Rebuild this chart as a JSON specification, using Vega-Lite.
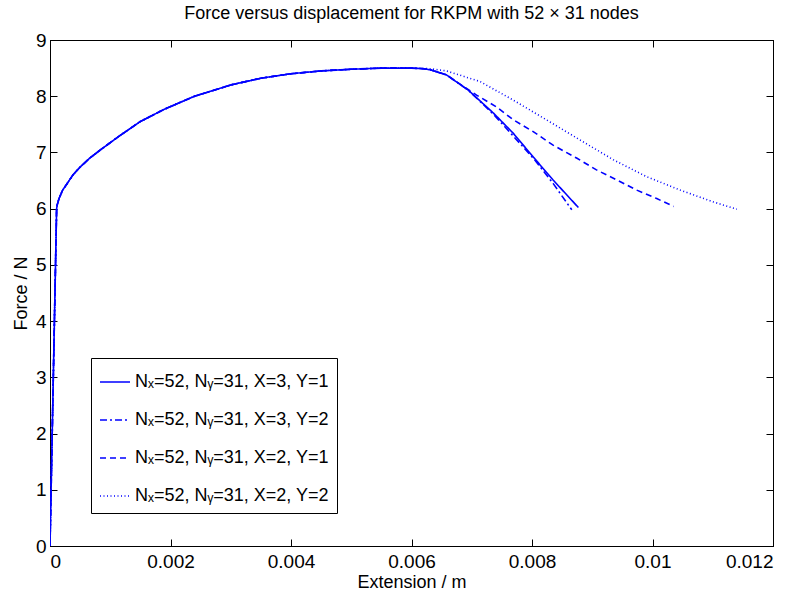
{
  "$schema": "https://vega.github.io/schema/vega-lite/v6.json",
  "width": 723,
  "height": 506,
  "autosize": {"type": "none"},
  "padding": {"left": 50, "top": 40, "right": 26, "bottom": 46},
  "background": "white",
  "title": {"text": "Force versus displacement for RKPM with 52 × 31 nodes", "fontSize": 18, "fontWeight": "normal", "font": "Liberation Sans", "color": "black", "offset": 8},
  "config": {
    "font": "Liberation Sans",
    "view": {"stroke": "black", "strokeWidth": 1},
    "axis": {"grid": false, "domainColor": "black", "tickColor": "black", "labelColor": "black", "titleColor": "black", "labelFontSize": 19, "titleFontSize": 18, "titleFontWeight": "normal", "tickSize": -7, "domainWidth": 1, "tickWidth": 1}
  },
  "datasets": {
    "curves": [
    {"s": "Nₓ=52, Nᵧ=31, X=3, Y=1", "x": 0, "y": 0},
    {"s": "Nₓ=52, Nᵧ=31, X=3, Y=1", "x": 0.00011, "y": 6.0},
    {"s": "Nₓ=52, Nᵧ=31, X=3, Y=1", "x": 0.00012, "y": 6.07},
    {"s": "Nₓ=52, Nᵧ=31, X=3, Y=1", "x": 0.00015, "y": 6.18},
    {"s": "Nₓ=52, Nᵧ=31, X=3, Y=1", "x": 0.00021, "y": 6.33},
    {"s": "Nₓ=52, Nᵧ=31, X=3, Y=1", "x": 0.00028, "y": 6.44},
    {"s": "Nₓ=52, Nᵧ=31, X=3, Y=1", "x": 0.00038, "y": 6.6},
    {"s": "Nₓ=52, Nᵧ=31, X=3, Y=1", "x": 0.0005, "y": 6.74},
    {"s": "Nₓ=52, Nᵧ=31, X=3, Y=1", "x": 0.00066, "y": 6.9},
    {"s": "Nₓ=52, Nᵧ=31, X=3, Y=1", "x": 0.00083, "y": 7.04},
    {"s": "Nₓ=52, Nᵧ=31, X=3, Y=1", "x": 0.00116, "y": 7.3},
    {"s": "Nₓ=52, Nᵧ=31, X=3, Y=1", "x": 0.0015, "y": 7.55},
    {"s": "Nₓ=52, Nᵧ=31, X=3, Y=1", "x": 0.0019, "y": 7.77},
    {"s": "Nₓ=52, Nᵧ=31, X=3, Y=1", "x": 0.0024, "y": 8.0},
    {"s": "Nₓ=52, Nᵧ=31, X=3, Y=1", "x": 0.003, "y": 8.2},
    {"s": "Nₓ=52, Nᵧ=31, X=3, Y=1", "x": 0.0035, "y": 8.32},
    {"s": "Nₓ=52, Nᵧ=31, X=3, Y=1", "x": 0.004, "y": 8.4},
    {"s": "Nₓ=52, Nᵧ=31, X=3, Y=1", "x": 0.0045, "y": 8.45},
    {"s": "Nₓ=52, Nᵧ=31, X=3, Y=1", "x": 0.005, "y": 8.48},
    {"s": "Nₓ=52, Nᵧ=31, X=3, Y=1", "x": 0.0055, "y": 8.5},
    {"s": "Nₓ=52, Nᵧ=31, X=3, Y=1", "x": 0.006, "y": 8.5},
    {"s": "Nₓ=52, Nᵧ=31, X=3, Y=1", "x": 0.0062, "y": 8.49},
    {"s": "Nₓ=52, Nᵧ=31, X=3, Y=1", "x": 0.00631, "y": 8.47},
    {"s": "Nₓ=52, Nᵧ=31, X=3, Y=1", "x": 0.00658, "y": 8.38},
    {"s": "Nₓ=52, Nᵧ=31, X=3, Y=1", "x": 0.00694, "y": 8.11},
    {"s": "Nₓ=52, Nᵧ=31, X=3, Y=1", "x": 0.00736, "y": 7.7},
    {"s": "Nₓ=52, Nᵧ=31, X=3, Y=1", "x": 0.00769, "y": 7.34},
    {"s": "Nₓ=52, Nᵧ=31, X=3, Y=1", "x": 0.00802, "y": 6.92},
    {"s": "Nₓ=52, Nᵧ=31, X=3, Y=1", "x": 0.00835, "y": 6.51},
    {"s": "Nₓ=52, Nᵧ=31, X=3, Y=1", "x": 0.00877, "y": 6.02},

    {"s": "Nₓ=52, Nᵧ=31, X=3, Y=2", "x": 0, "y": 0},
    {"s": "Nₓ=52, Nᵧ=31, X=3, Y=2", "x": 0.00011, "y": 6.0},
    {"s": "Nₓ=52, Nᵧ=31, X=3, Y=2", "x": 0.00012, "y": 6.07},
    {"s": "Nₓ=52, Nᵧ=31, X=3, Y=2", "x": 0.00015, "y": 6.18},
    {"s": "Nₓ=52, Nᵧ=31, X=3, Y=2", "x": 0.00021, "y": 6.33},
    {"s": "Nₓ=52, Nᵧ=31, X=3, Y=2", "x": 0.00028, "y": 6.44},
    {"s": "Nₓ=52, Nᵧ=31, X=3, Y=2", "x": 0.00038, "y": 6.6},
    {"s": "Nₓ=52, Nᵧ=31, X=3, Y=2", "x": 0.0005, "y": 6.74},
    {"s": "Nₓ=52, Nᵧ=31, X=3, Y=2", "x": 0.00066, "y": 6.9},
    {"s": "Nₓ=52, Nᵧ=31, X=3, Y=2", "x": 0.00083, "y": 7.04},
    {"s": "Nₓ=52, Nᵧ=31, X=3, Y=2", "x": 0.00116, "y": 7.3},
    {"s": "Nₓ=52, Nᵧ=31, X=3, Y=2", "x": 0.0015, "y": 7.55},
    {"s": "Nₓ=52, Nᵧ=31, X=3, Y=2", "x": 0.0019, "y": 7.77},
    {"s": "Nₓ=52, Nᵧ=31, X=3, Y=2", "x": 0.0024, "y": 8.0},
    {"s": "Nₓ=52, Nᵧ=31, X=3, Y=2", "x": 0.003, "y": 8.2},
    {"s": "Nₓ=52, Nᵧ=31, X=3, Y=2", "x": 0.0035, "y": 8.32},
    {"s": "Nₓ=52, Nᵧ=31, X=3, Y=2", "x": 0.004, "y": 8.4},
    {"s": "Nₓ=52, Nᵧ=31, X=3, Y=2", "x": 0.0045, "y": 8.45},
    {"s": "Nₓ=52, Nᵧ=31, X=3, Y=2", "x": 0.005, "y": 8.48},
    {"s": "Nₓ=52, Nᵧ=31, X=3, Y=2", "x": 0.0055, "y": 8.5},
    {"s": "Nₓ=52, Nᵧ=31, X=3, Y=2", "x": 0.006, "y": 8.5},
    {"s": "Nₓ=52, Nᵧ=31, X=3, Y=2", "x": 0.0062, "y": 8.49},
    {"s": "Nₓ=52, Nᵧ=31, X=3, Y=2", "x": 0.00631, "y": 8.47},
    {"s": "Nₓ=52, Nᵧ=31, X=3, Y=2", "x": 0.00658, "y": 8.38},
    {"s": "Nₓ=52, Nᵧ=31, X=3, Y=2", "x": 0.00694, "y": 8.11},
    {"s": "Nₓ=52, Nᵧ=31, X=3, Y=2", "x": 0.00736, "y": 7.68},
    {"s": "Nₓ=52, Nᵧ=31, X=3, Y=2", "x": 0.0078, "y": 7.16},
    {"s": "Nₓ=52, Nᵧ=31, X=3, Y=2", "x": 0.00805, "y": 6.86},
    {"s": "Nₓ=52, Nᵧ=31, X=3, Y=2", "x": 0.00835, "y": 6.45},
    {"s": "Nₓ=52, Nᵧ=31, X=3, Y=2", "x": 0.00858, "y": 6.1},
    {"s": "Nₓ=52, Nᵧ=31, X=3, Y=2", "x": 0.00866, "y": 5.98},

    {"s": "Nₓ=52, Nᵧ=31, X=2, Y=1", "x": 0, "y": 0},
    {"s": "Nₓ=52, Nᵧ=31, X=2, Y=1", "x": 0.00011, "y": 6.0},
    {"s": "Nₓ=52, Nᵧ=31, X=2, Y=1", "x": 0.00012, "y": 6.07},
    {"s": "Nₓ=52, Nᵧ=31, X=2, Y=1", "x": 0.00015, "y": 6.18},
    {"s": "Nₓ=52, Nᵧ=31, X=2, Y=1", "x": 0.00021, "y": 6.33},
    {"s": "Nₓ=52, Nᵧ=31, X=2, Y=1", "x": 0.00028, "y": 6.44},
    {"s": "Nₓ=52, Nᵧ=31, X=2, Y=1", "x": 0.00038, "y": 6.6},
    {"s": "Nₓ=52, Nᵧ=31, X=2, Y=1", "x": 0.0005, "y": 6.74},
    {"s": "Nₓ=52, Nᵧ=31, X=2, Y=1", "x": 0.00066, "y": 6.9},
    {"s": "Nₓ=52, Nᵧ=31, X=2, Y=1", "x": 0.00083, "y": 7.04},
    {"s": "Nₓ=52, Nᵧ=31, X=2, Y=1", "x": 0.00116, "y": 7.3},
    {"s": "Nₓ=52, Nᵧ=31, X=2, Y=1", "x": 0.0015, "y": 7.55},
    {"s": "Nₓ=52, Nᵧ=31, X=2, Y=1", "x": 0.0019, "y": 7.77},
    {"s": "Nₓ=52, Nᵧ=31, X=2, Y=1", "x": 0.0024, "y": 8.0},
    {"s": "Nₓ=52, Nᵧ=31, X=2, Y=1", "x": 0.003, "y": 8.2},
    {"s": "Nₓ=52, Nᵧ=31, X=2, Y=1", "x": 0.0035, "y": 8.32},
    {"s": "Nₓ=52, Nᵧ=31, X=2, Y=1", "x": 0.004, "y": 8.4},
    {"s": "Nₓ=52, Nᵧ=31, X=2, Y=1", "x": 0.0045, "y": 8.45},
    {"s": "Nₓ=52, Nᵧ=31, X=2, Y=1", "x": 0.005, "y": 8.48},
    {"s": "Nₓ=52, Nᵧ=31, X=2, Y=1", "x": 0.0055, "y": 8.5},
    {"s": "Nₓ=52, Nᵧ=31, X=2, Y=1", "x": 0.006, "y": 8.5},
    {"s": "Nₓ=52, Nᵧ=31, X=2, Y=1", "x": 0.0062, "y": 8.49},
    {"s": "Nₓ=52, Nᵧ=31, X=2, Y=1", "x": 0.00631, "y": 8.47},
    {"s": "Nₓ=52, Nᵧ=31, X=2, Y=1", "x": 0.00658, "y": 8.38},
    {"s": "Nₓ=52, Nᵧ=31, X=2, Y=1", "x": 0.0068, "y": 8.22},
    {"s": "Nₓ=52, Nᵧ=31, X=2, Y=1", "x": 0.00708, "y": 8.02},
    {"s": "Nₓ=52, Nᵧ=31, X=2, Y=1", "x": 0.00741, "y": 7.81},
    {"s": "Nₓ=52, Nᵧ=31, X=2, Y=1", "x": 0.00769, "y": 7.58},
    {"s": "Nₓ=52, Nᵧ=31, X=2, Y=1", "x": 0.00802, "y": 7.37},
    {"s": "Nₓ=52, Nᵧ=31, X=2, Y=1", "x": 0.00835, "y": 7.13},
    {"s": "Nₓ=52, Nᵧ=31, X=2, Y=1", "x": 0.00874, "y": 6.9},
    {"s": "Nₓ=52, Nᵧ=31, X=2, Y=1", "x": 0.00907, "y": 6.69},
    {"s": "Nₓ=52, Nᵧ=31, X=2, Y=1", "x": 0.00941, "y": 6.51},
    {"s": "Nₓ=52, Nᵧ=31, X=2, Y=1", "x": 0.00974, "y": 6.33},
    {"s": "Nₓ=52, Nᵧ=31, X=2, Y=1", "x": 0.01007, "y": 6.18},
    {"s": "Nₓ=52, Nᵧ=31, X=2, Y=1", "x": 0.01035, "y": 6.04},

    {"s": "Nₓ=52, Nᵧ=31, X=2, Y=2", "x": 0, "y": 0},
    {"s": "Nₓ=52, Nᵧ=31, X=2, Y=2", "x": 0.00011, "y": 6.0},
    {"s": "Nₓ=52, Nᵧ=31, X=2, Y=2", "x": 0.00012, "y": 6.07},
    {"s": "Nₓ=52, Nᵧ=31, X=2, Y=2", "x": 0.00015, "y": 6.18},
    {"s": "Nₓ=52, Nᵧ=31, X=2, Y=2", "x": 0.00021, "y": 6.33},
    {"s": "Nₓ=52, Nᵧ=31, X=2, Y=2", "x": 0.00028, "y": 6.44},
    {"s": "Nₓ=52, Nᵧ=31, X=2, Y=2", "x": 0.00038, "y": 6.6},
    {"s": "Nₓ=52, Nᵧ=31, X=2, Y=2", "x": 0.0005, "y": 6.74},
    {"s": "Nₓ=52, Nᵧ=31, X=2, Y=2", "x": 0.00066, "y": 6.9},
    {"s": "Nₓ=52, Nᵧ=31, X=2, Y=2", "x": 0.00083, "y": 7.04},
    {"s": "Nₓ=52, Nᵧ=31, X=2, Y=2", "x": 0.00116, "y": 7.3},
    {"s": "Nₓ=52, Nᵧ=31, X=2, Y=2", "x": 0.0015, "y": 7.55},
    {"s": "Nₓ=52, Nᵧ=31, X=2, Y=2", "x": 0.0019, "y": 7.77},
    {"s": "Nₓ=52, Nᵧ=31, X=2, Y=2", "x": 0.0024, "y": 8.0},
    {"s": "Nₓ=52, Nᵧ=31, X=2, Y=2", "x": 0.003, "y": 8.2},
    {"s": "Nₓ=52, Nᵧ=31, X=2, Y=2", "x": 0.0035, "y": 8.32},
    {"s": "Nₓ=52, Nᵧ=31, X=2, Y=2", "x": 0.004, "y": 8.4},
    {"s": "Nₓ=52, Nᵧ=31, X=2, Y=2", "x": 0.0045, "y": 8.45},
    {"s": "Nₓ=52, Nᵧ=31, X=2, Y=2", "x": 0.005, "y": 8.48},
    {"s": "Nₓ=52, Nᵧ=31, X=2, Y=2", "x": 0.0055, "y": 8.5},
    {"s": "Nₓ=52, Nᵧ=31, X=2, Y=2", "x": 0.006, "y": 8.5},
    {"s": "Nₓ=52, Nᵧ=31, X=2, Y=2", "x": 0.0063, "y": 8.49},
    {"s": "Nₓ=52, Nᵧ=31, X=2, Y=2", "x": 0.00658, "y": 8.45},
    {"s": "Nₓ=52, Nᵧ=31, X=2, Y=2", "x": 0.00714, "y": 8.26},
    {"s": "Nₓ=52, Nᵧ=31, X=2, Y=2", "x": 0.00769, "y": 7.93},
    {"s": "Nₓ=52, Nᵧ=31, X=2, Y=2", "x": 0.00824, "y": 7.58},
    {"s": "Nₓ=52, Nᵧ=31, X=2, Y=2", "x": 0.0088, "y": 7.22},
    {"s": "Nₓ=52, Nᵧ=31, X=2, Y=2", "x": 0.00935, "y": 6.87},
    {"s": "Nₓ=52, Nᵧ=31, X=2, Y=2", "x": 0.0099, "y": 6.57},
    {"s": "Nₓ=52, Nᵧ=31, X=2, Y=2", "x": 0.01046, "y": 6.33},
    {"s": "Nₓ=52, Nᵧ=31, X=2, Y=2", "x": 0.01101, "y": 6.12},
    {"s": "Nₓ=52, Nᵧ=31, X=2, Y=2", "x": 0.0114, "y": 5.99}
    ]
  },
  "data": {"name": "curves"},
  "layer": [
    {
      "mark": {"type": "line", "color": "#0000ff", "strokeWidth": 1.6, "clip": true},
      "encoding": {
        "x": {"field": "x", "type": "quantitative", "scale": {"domain": [0, 0.012], "nice": false, "zero": false},
              "axis": {"title": "Extension / m", "values": [0, 0.002, 0.004, 0.006, 0.008, 0.01, 0.012], "format": "~g", "labelFontSize": 19, "labelPadding": 13, "titlePadding": 2, "orient": "bottom"}},
        "y": {"field": "y", "type": "quantitative", "scale": {"domain": [0, 9], "nice": false},
              "axis": {"title": "Force / N", "values": [0, 1, 2, 3, 4, 5, 6, 7, 8, 9], "labelFontSize": 19, "labelPadding": 11, "titlePadding": 5, "orient": "left"}},
        "strokeDash": {"field": "s", "type": "nominal",
          "scale": {"domain": ["Nₓ=52, Nᵧ=31, X=3, Y=1", "Nₓ=52, Nᵧ=31, X=3, Y=2", "Nₓ=52, Nᵧ=31, X=2, Y=1", "Nₓ=52, Nᵧ=31, X=2, Y=2"],
                    "range": [[1, 0], [7, 3, 2, 3], [6, 4], [1, 2.5]]},
          "legend": {"orient": "none", "legendX": 41, "legendY": 318, "title": null, "symbolType": "stroke", "symbolSize": 900, "symbolStrokeWidth": 1.6, "symbolStrokeColor": "#0000ff", "labelFontSize": 18, "labelFont": "Liberation Sans", "labelColor": "black", "labelLimit": 400, "labelOffset": 4, "strokeColor": "black", "fillColor": "white", "padding": 8, "rowPadding": 13}
        }
      }
    },
    {
      "mark": {"type": "point", "opacity": 0},
      "encoding": {
        "x": {"field": "x", "type": "quantitative", "axis": {"orient": "top", "labels": false, "title": null, "values": [0, 0.002, 0.004, 0.006, 0.008, 0.01, 0.012]}},
        "y": {"field": "y", "type": "quantitative", "axis": {"orient": "right", "labels": false, "title": null, "values": [0, 1, 2, 3, 4, 5, 6, 7, 8, 9]}}
      }
    }
  ],
  "resolve": {"axis": {"x": "independent", "y": "independent"}}
}
